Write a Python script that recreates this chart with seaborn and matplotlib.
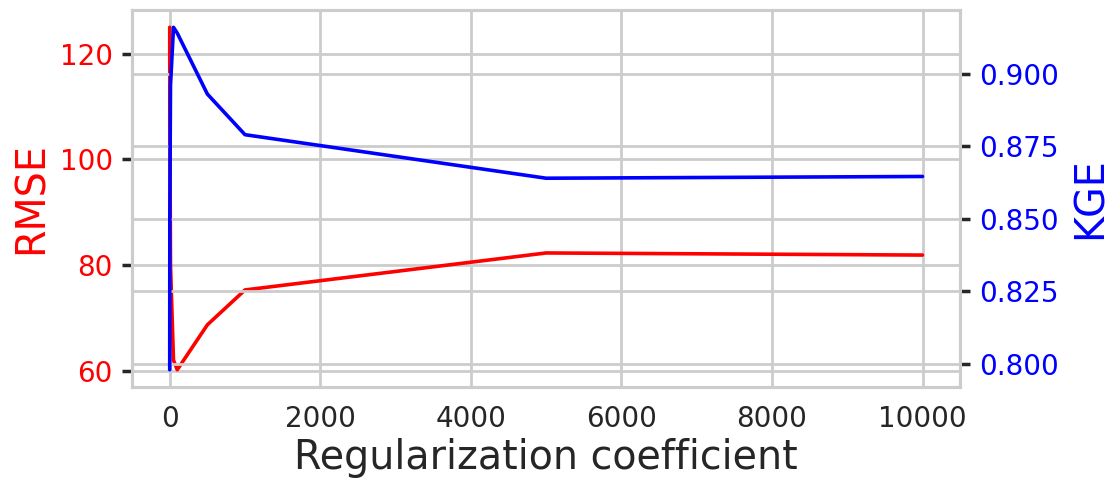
import numpy as np
import pandas as pd
import matplotlib
matplotlib.use("Agg")
import matplotlib.pyplot as plt
import seaborn as sns

# ── Data ─────────────────────────────────────────────────────────────────────
reg_coef = [0, 1, 10, 50, 100, 500, 1000, 5000, 10000]
rmse     = [125.0, 110.0, 80.0, 62.0, 60.2, 68.7, 75.3, 82.3, 81.9]
kge      = [0.798, 0.850, 0.896, 0.916, 0.914, 0.893, 0.879, 0.864, 0.8646]

df = pd.DataFrame({"coef": reg_coef, "RMSE": rmse, "KGE": kge})

# ── Style ────────────────────────────────────────────────────────────────────
sns.set_theme(style="whitegrid")
plt.rcParams.update({
    "font.family": "DejaVu Sans",
    "axes.edgecolor": "#cccccc",
    "axes.linewidth": 2.2,
    "grid.color": "#cccccc",
    "grid.linewidth": 2.0,
    "xtick.color": "#262626",
    "ytick.color": "#262626",
})

fig = plt.figure(figsize=(11.1, 4.86), dpi=100)
ax1 = fig.add_axes([0.119, 0.204, 0.746, 0.775])
ax2 = ax1.twinx()

sns.lineplot(data=df, x="coef", y="RMSE", color="red", linewidth=2.6, ax=ax1)
sns.lineplot(data=df, x="coef", y="KGE", color="blue", linewidth=2.6, ax=ax2)

ax1.set_xlabel("Regularization coefficient", fontsize=28.5, color="#262626",
               labelpad=4)
ax1.set_ylabel("RMSE", fontsize=28.5, color="red", labelpad=6)
ax2.set_ylabel("KGE", fontsize=28.5, color="blue", labelpad=8)

ax1.set_yticks([60, 80, 100, 120])
ax2.set_yticks([0.800, 0.825, 0.850, 0.875, 0.900])
ax2.yaxis.set_major_formatter(plt.FuncFormatter(lambda v, _: f"{v:.3f}"))

ax1.tick_params(axis="x", labelsize=20, length=0, pad=13)
ax1.tick_params(axis="y", labelsize=20, labelcolor="red", left=True,
                length=7, width=2.5, color="#262626", pad=7)
ax2.tick_params(axis="y", labelsize=20, labelcolor="blue", right=True,
                length=7, width=2.5, color="#262626", pad=7)
ax2.grid(True)
for sp in ax2.spines.values():
    sp.set_color("#cccccc")
    sp.set_linewidth(2.2)

fig.savefig("out.png", dpi=100)
